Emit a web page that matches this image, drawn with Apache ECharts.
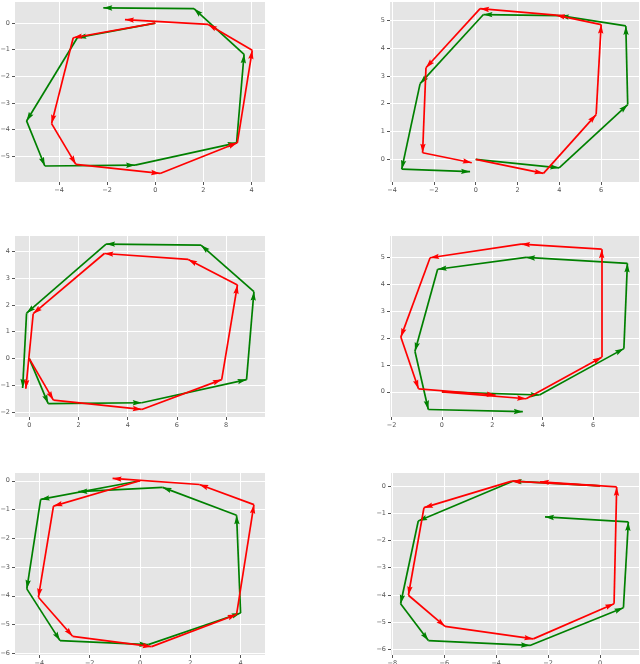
<!DOCTYPE html>
<html><head><meta charset="utf-8">
<script src="https://cdn.jsdelivr.net/npm/echarts@6/dist/echarts.min.js"></script>
<style>html,body{margin:0;padding:0;background:#fff}#c{width:640px;height:664px}</style>
</head><body><div id="c"></div>
<script>
// ---- data: trajectories (x, y) ----
const red1   = [[0,0],[-3.41,-0.55],[-4.31,-3.77],[-3.30,-5.30],[0.20,-5.64],[3.41,-4.49],[4.03,-1.02],[2.20,-0.05],[-1.26,0.13]];
const green1 = [[0,0],[-3.24,-0.55],[-5.35,-3.67],[-4.59,-5.36],[-0.84,-5.33],[3.38,-4.49],[3.69,-1.17],[1.61,0.54],[-2.16,0.57]];
const red2   = [[0,0],[3.24,-0.50],[5.76,1.61],[6.00,4.84],[3.84,5.18],[0.21,5.41],[-2.38,3.29],[-2.54,0.24],[-0.19,-0.12]];
const green2 = [[0,0],[3.99,-0.30],[7.27,1.97],[7.18,4.79],[4.03,5.16],[0.37,5.20],[-2.66,2.72],[-3.54,-0.35],[-0.27,-0.44]];
const red3   = [[0,0],[0.98,-1.54],[4.57,-1.89],[7.82,-0.78],[8.46,2.74],[6.46,3.69],[3.05,3.91],[0.16,1.67],[-0.14,-1.12]];
const green3 = [[0,0],[0.77,-1.67],[4.57,-1.64],[8.83,-0.78],[9.13,2.49],[6.98,4.22],[3.12,4.26],[-0.11,1.69],[-0.27,-1.09]];
const red4   = [[0,0],[3.34,-0.26],[6.34,1.29],[6.34,5.32],[3.14,5.51],[-0.47,5.00],[-1.63,2.04],[-0.93,0.11],[2.13,-0.12]];
const green4 = [[0,0],[3.87,-0.12],[7.22,1.61],[7.36,4.79],[3.34,5.01],[-0.17,4.57],[-1.07,1.51],[-0.54,-0.66],[3.21,-0.74]];
const red5   = [[0,0],[-3.44,-0.88],[-4.04,-4.05],[-2.68,-5.41],[0.46,-5.77],[3.84,-4.65],[4.53,-0.83],[2.36,-0.13],[-1.09,0.08]];
const green5 = [[0,0],[-3.95,-0.65],[-4.50,-3.76],[-3.18,-5.56],[0.33,-5.70],[4.00,-4.60],[3.84,-1.20],[0.90,-0.23],[-2.45,-0.38]];
const red6   = [[0,0],[-3.40,0.17],[-6.78,-0.80],[-7.38,-4.01],[-5.97,-5.15],[-2.57,-5.61],[0.54,-4.32],[0.64,-0.04],[-2.31,0.15]];
const green6 = [[0,0],[-3.36,0.17],[-7.00,-1.29],[-7.68,-4.32],[-6.61,-5.67],[-2.70,-5.85],[0.90,-4.47],[1.09,-1.32],[-2.12,-1.14]];

// ---- tick values ----
const xTicks1 = [-4,-2,0,2,4],    yTicks1 = [-5,-4,-3,-2,-1,0];
const xTicks2 = [-4,-2,0,2,4,6],  yTicks2 = [0,1,2,3,4,5];
const xTicks3 = [0,2,4,6,8],      yTicks3 = [-2,-1,0,1,2,3,4];
const xTicks4 = [-2,0,2,4,6],     yTicks4 = [0,1,2,3,4,5];
const xTicks5 = [-4,-2,0,2,4],    yTicks5 = [-6,-5,-4,-3,-2,-1,0];
const xTicks6 = [-8,-6,-4,-2,0],  yTicks6 = [-6,-5,-4,-3,-2,-1,0];

// ---- layout (pixels) and axis ranges ----
const panels = [
  {box:[15,2,250,180],  xr:[-5.83,4.56], yr:[-5.96,0.79], xt:xTicks1, yt:yTicks1, red:red1, green:green1},
  {box:[390,2,249,180], xr:[-4.10,7.81], yr:[-0.81,5.65], xt:xTicks2, yt:yTicks2, red:red2, green:green2},
  {box:[15,236,250,181],xr:[-0.58,9.58], yr:[-2.17,4.56], xt:xTicks3, yt:yTicks3, red:red3, green:green3},
  {box:[390,236,249,181],xr:[-2.06,7.82],yr:[-0.94,5.81], xt:xTicks4, yt:yTicks4, red:red4, green:green4},
  {box:[15,473,250,182],xr:[-4.97,4.97], yr:[-6.06,0.27], xt:xTicks5, yt:yTicks5, red:red5, green:green5},
  {box:[391,473,248,182],xr:[-8.05,1.50],yr:[-6.20,0.47], xt:xTicks6, yt:yTicks6, red:red6, green:green6}
];

const fmt = v => (v < 0 ? '\u2212' + Math.abs(v) : String(v));
const ARROW = 'path://M0,0 M20,20 M7,20 L10,10 L13,20 L10,18.5 Z';

function axis(i, range, ticks, pos) {
  return {
    type:'value', gridIndex:i, min:range[0], max:range[1], position:pos,
    axisLine:{show:false, onZero:false},
    axisTick:{show:true, customValues:ticks, length:3, lineStyle:{color:'#555', width:1}},
    axisLabel:{customValues:ticks, formatter:fmt, fontSize:6.5, color:'#555', margin:5,
               fontFamily:'DejaVu Sans', showMinLabel:true, showMaxLabel:true, hideOverlap:false},
    splitLine:{show:true, lineStyle:{color:'#ffffff', width:1}}
  };
}
function segs(pts) {
  const out = [];
  for (let k = 0; k < pts.length - 1; k++) out.push({coords:[pts[k], pts[k+1]]});
  return out;
}

const grids = [], xAxes = [], yAxes = [], series = [];
panels.forEach((p, i) => {
  grids.push({left:p.box[0], top:p.box[1], width:p.box[2], height:p.box[3], show:true,
              backgroundColor:'#e5e5e5', borderWidth:0, containLabel:false, outerBoundsMode:'none'});
  xAxes.push(axis(i, p.xr, p.xt, 'bottom'));
  yAxes.push(axis(i, p.yr, p.yt, 'left'));
  [['#008000', p.green], ['#ff0000', p.red]].forEach(([col, pts], j) => {
    series.push({
      type:'lines', coordinateSystem:'cartesian2d', xAxisIndex:i, yAxisIndex:i,
      symbol:['none', ARROW], symbolSize:18, silent:true, animation:false, z:2+j,
      lineStyle:{color:col, width:1.7, opacity:1, curveness:0},
      data:segs(pts)
    });
  });
});

const chart = echarts.init(document.getElementById('c'), null, {renderer:'canvas'});
chart.setOption({animation:false, grid:grids, xAxis:xAxes, yAxis:yAxes, series:series});
</script></body></html>
